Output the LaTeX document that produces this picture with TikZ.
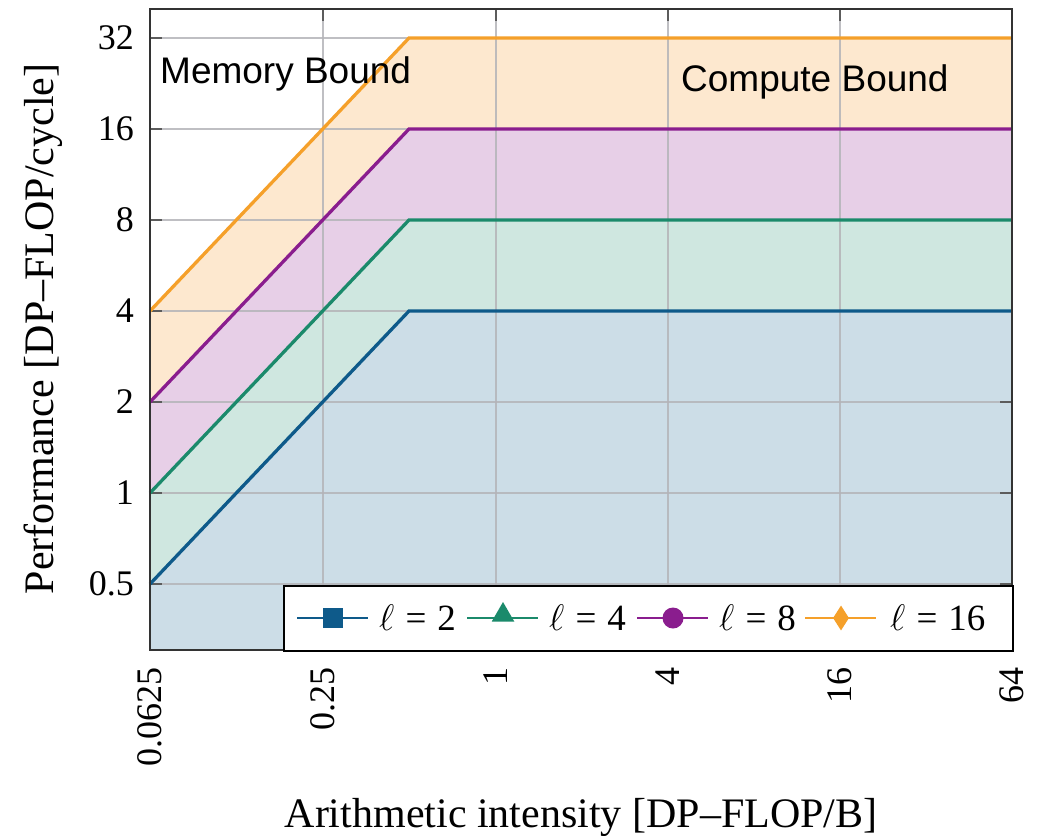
\RequirePackage{fix-cm}
\documentclass[tikz,border=0pt]{standalone}
\usepackage{fontspec}
\setmainfont{Liberation Serif}
\newfontfamily\sansf{Liberation Sans}
\usetikzlibrary{shapes.geometric}
\definecolor{cA}{HTML}{0E5A8A}
\definecolor{cB}{HTML}{1B8A6B}
\definecolor{cC}{HTML}{8A1D8E}
\definecolor{cD}{HTML}{F5A02A}
\definecolor{fA}{HTML}{CCDDE7}
\definecolor{fB}{HTML}{CFE7E0}
\definecolor{fC}{HTML}{E7CFE7}
\definecolor{fD}{HTML}{FDE8CF}
\definecolor{gridc}{HTML}{B4B4B8}
\definecolor{framec}{HTML}{333333}
\newcommand{\legell}[1]{\(\ell\)\hspace{0.3em}=\hspace{0.3em}#1}
\tikzset{
  gridline/.style={draw=gridc, line width=1.3pt},
  roof/.style={line width=3.3pt, line join=miter},
  framebox/.style={draw=framec, line width=2pt},
  tickmark/.style={draw=framec!80, line width=1.3pt},
  ticklab/.style={font=\fontsize{36}{40}\selectfont, inner sep=0pt},
  axlab/.style={font=\fontsize{42}{48}\selectfont, inner sep=0pt},
  boundlab/.style={font=\sansf\fontsize{37}{42}\selectfont, inner sep=0pt, anchor=base west},
  legtext/.style={font=\fontsize{37}{40}\selectfont, inner sep=0pt, anchor=west},
  legline/.style={line width=2.8pt},
  mk/.style={inner sep=0pt, draw=none}
}
\begin{document}
\begin{tikzpicture}[x=1pt,y=-1pt]
\useasboundingbox (0,0) rectangle (1048,835);
% fills
\fill[fA] (150,650) -- (150,584) -- (409,311) -- (1012,311) -- (1012,650) -- cycle;
\fill[fB] (150,584) -- (409,311) -- (1012,311) -- (1012,220) -- (409,220) -- (150,493) -- cycle;
\fill[fC] (150,493) -- (409,220) -- (1012,220) -- (1012,129) -- (409,129) -- (150,402) -- cycle;
\fill[fD] (150,402) -- (409,129) -- (1012,129) -- (1012,38) -- (409,38) -- (150,311) -- cycle;
% grid
\foreach \yy in {584,493,402,311,220,129,38} \draw[gridline, opacity=0.85] (150,\yy) -- (1012,\yy);
\foreach \xx in {323,496,668,840} \draw[gridline, opacity=0.85] (\xx,9) -- (\xx,650);
% ticks
\foreach \yy in {584,493,402,311,220,129,38} {
  \draw[tickmark] (150,\yy) -- (162,\yy);
  \draw[tickmark] (1012,\yy) -- (1000,\yy);
}
\foreach \xx in {323,496,668,840} {
  \draw[tickmark] (\xx,650) -- (\xx,638);
  \draw[tickmark] (\xx,9) -- (\xx,21);
}
% roofline curves
\draw[roof, cA] (150,584) -- (409,311) -- (1012,311);
\draw[roof, cB] (150,493) -- (409,220) -- (1012,220);
\draw[roof, cC] (150,402) -- (409,129) -- (1012,129);
\draw[roof, cD] (150,311) -- (409,38) -- (1012,38);
% frame
\draw[framebox] (150,9) rectangle (1012,650);
% y tick labels
\node[ticklab, anchor=east] (y05) at (134,584) {0.5};
\node[ticklab, anchor=east] (y1) at (134,493) {1};
\node[ticklab, anchor=east] (y2) at (134,402) {2};
\node[ticklab, anchor=east] (y4) at (134,311) {4};
\node[ticklab, anchor=east] (y8) at (134,220) {8};
\node[ticklab, anchor=east] (y16) at (134,129) {16};
\node[ticklab, anchor=east] (y32) at (134,38) {32};
% x tick labels
\node[ticklab, anchor=east, rotate=90] (x0) at (150,667) {0.0625};
\node[ticklab, anchor=east, rotate=90] (x1) at (323,667) {0.25};
\node[ticklab, anchor=east, rotate=90] (x2) at (496,667) {1};
\node[ticklab, anchor=east, rotate=90] (x3) at (668,667) {4};
\node[ticklab, anchor=east, rotate=90] (x4) at (840,667) {16};
\node[ticklab, anchor=east, rotate=90] (x5) at (1012,667) {64};
% axis labels
\node[axlab, anchor=base] (xlab) at (581,827) {Arithmetic intensity [DP–FLOP/B]};
\node[axlab, rotate=90, anchor=base] (ylab) at (53,329) {Performance [DP–FLOP/cycle]};
% region labels
\node[boundlab] (mem) at (160,83) {Memory Bound};
\node[boundlab] (comp) at (681,91) {Compute Bound};
% legend
\node[draw=black, line width=1.8pt, fill=white, minimum width=729pt, minimum height=65pt, anchor=north west, inner sep=0pt] (leg) at (283,585) {};
\draw[legline, cA] (297,618) -- (368,618);
\node[mk, fill=cA, rectangle, minimum size=20pt] (mA) at (333,618) {};
\node[legtext] (tA) at (379,618) {\legell{2}};
\draw[legline, cB] (467,618) -- (538,618);
\node[mk, fill=cB, regular polygon, regular polygon sides=3, minimum size=26pt] (mB) at (503,615) {};
\node[legtext] (tB) at (549,618) {\legell{4}};
\draw[legline, cC] (637,618) -- (708,618);
\node[mk, fill=cC, circle, minimum size=21pt] (mC) at (673,618) {};
\node[legtext] (tC) at (719,618) {\legell{8}};
\draw[legline, cD] (805,618) -- (876,618);
\node[mk, fill=cD, diamond, minimum width=16pt, minimum height=25pt, aspect=0.6] (mD) at (841,618) {};
\node[legtext] (tD) at (890,618) {\legell{16}};
\end{tikzpicture}
\end{document}
